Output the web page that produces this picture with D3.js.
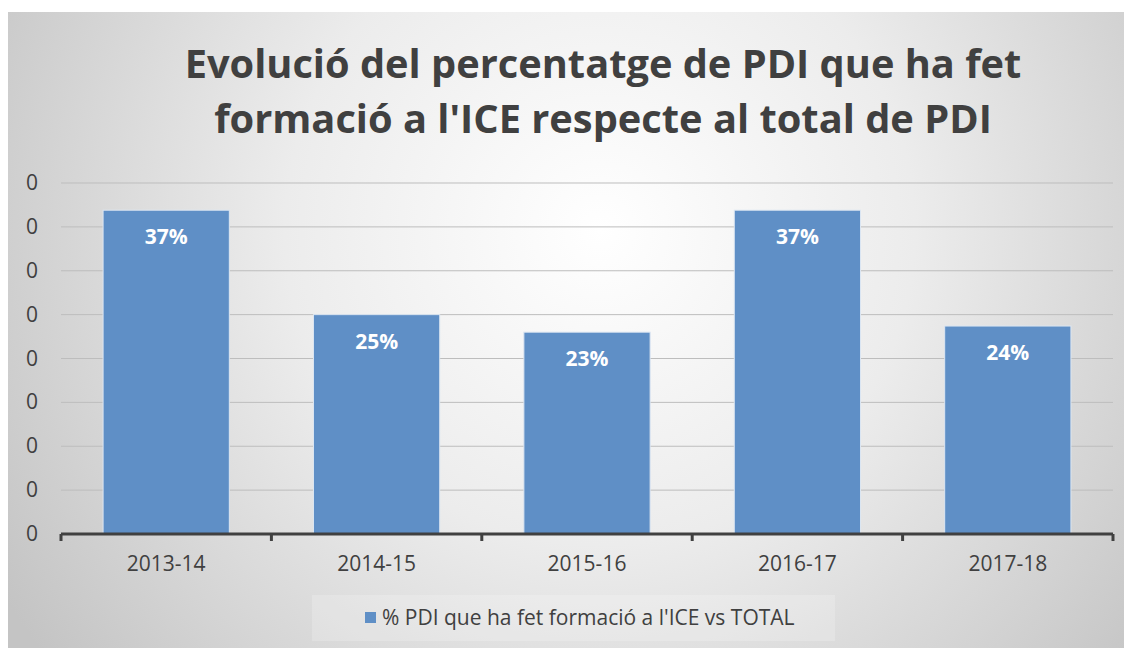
<!DOCTYPE html>
<html>
<head>
<meta charset="utf-8">
<script src="https://cdnjs.cloudflare.com/ajax/libs/d3/7.8.5/d3.min.js"></script>
<style>
  body { margin: 0; background: #fff; }
  svg { display: block; }
</style>
</head>
<body>
<div id="chart"></div>
<script>
// data
const cursos = ['2013-14', '2014-15', '2015-16', '2016-17', '2017-18'];
const valors = [0.369, 0.25, 0.23, 0.369, 0.237];
const etiquetes = ['37%', '25%', '23%', '37%', '24%'];
const titol = ["Evolució del percentatge de PDI que ha fet", "formació a l'ICE respecte al total de PDI"];
const serie = "% PDI que ha fet formació a l'ICE vs TOTAL";
const yTicks = [0, 0.05, 0.1, 0.15, 0.2, 0.25, 0.3, 0.35, 0.4];

const W = 1132, H = 648;
const margins = { top: 183, right: 19, bottom: 114, left: 61 };
const font = '"Open Sans", Lato, sans-serif';

const svg = d3.select('#chart').append('svg')
  .attr('width', W)
  .attr('height', H);

// background gradient
const defs = svg.append('defs');
const grad = defs.append('radialGradient')
  .attr('id', 'bg')
  .attr('gradientUnits', 'userSpaceOnUse')
  .attr('cx', 600).attr('cy', 230).attr('r', 700);
grad.append('stop').attr('offset', '0%').attr('stop-color', '#ffffff');
grad.append('stop').attr('offset', '45%').attr('stop-color', '#ececec');
grad.append('stop').attr('offset', '100%').attr('stop-color', '#c4c4c4');

svg.append('rect')
  .attr('x', 8).attr('y', 12)
  .attr('width', W - 16).attr('height', H - 12)
  .attr('fill', 'url(#bg)');

// legend first, to measure text size used everywhere
svg.append('rect')
  .attr('x', 312).attr('y', 595)
  .attr('width', 523).attr('height', 46)
  .attr('fill', '#ffffff').attr('opacity', 0.2);
svg.append('rect')
  .attr('x', 365).attr('y', 612)
  .attr('width', 11).attr('height', 11)
  .attr('fill', '#5f8fc6');
const legText = svg.append('text')
  .attr('x', 382).attr('y', 625)
  .style('font-family', font)
  .style('font-size', '18px')
  .style('fill', '#404040')
  .text(serie);
const fs = Math.min(21, 18 * 413 / legText.node().getComputedTextLength());
legText.style('font-size', fs + 'px');

const innerW = W - margins.left - margins.right;
const innerH = H - margins.top - margins.bottom;

const x = d3.scaleBand().domain(cursos).range([0, innerW]).paddingInner(0.4).paddingOuter(0.2);
const y = d3.scaleLinear().domain([0, 0.4]).range([innerH, 0]);

const g = svg.append('g').attr('transform', `translate(${margins.left},${margins.top})`);

// gridlines
g.selectAll('.grid')
  .data(yTicks.slice(1))
  .enter().append('line')
  .attr('x1', 0).attr('x2', innerW)
  .attr('y1', d => y(d)).attr('y2', d => y(d))
  .attr('stroke', '#bdbdbd')
  .attr('stroke-width', 1);

// y labels (format with no decimals, as in the original)
g.selectAll('.ylab')
  .data(yTicks)
  .enter().append('text')
  .attr('x', -29)
  .attr('y', d => y(d) + 7)
  .attr('text-anchor', 'middle')
  .style('font-family', font)
  .style('font-size', fs + 'px')
  .style('fill', '#404040')
  .text(d => d3.format('.0f')(d));

// bars
g.selectAll('.bar')
  .data(valors)
  .enter().append('rect')
  .attr('x', (d, i) => x(cursos[i]))
  .attr('y', d => y(d))
  .attr('width', x.bandwidth())
  .attr('height', d => innerH - y(d))
  .attr('fill', '#5f8fc6')
  .attr('stroke', '#dce6f2')
  .attr('stroke-width', 1);

// data labels
g.selectAll('.dlab')
  .data(valors)
  .enter().append('text')
  .attr('x', (d, i) => x(cursos[i]) + x.bandwidth() / 2)
  .attr('y', d => y(d) + 34)
  .attr('text-anchor', 'middle')
  .style('font-family', font)
  .style('font-weight', 'bold')
  .style('font-size', fs + 'px')
  .style('fill', '#ffffff')
  .text((d, i) => etiquetes[i]);

// x axis
const step = innerW / cursos.length;
g.append('line')
  .attr('x1', 0).attr('x2', innerW)
  .attr('y1', innerH).attr('y2', innerH)
  .attr('stroke', '#404040')
  .attr('stroke-width', 3);
g.selectAll('.tick')
  .data(d3.range(cursos.length + 1))
  .enter().append('line')
  .attr('x1', d => d * step).attr('x2', d => d * step)
  .attr('y1', innerH).attr('y2', innerH + 7)
  .attr('stroke', '#404040')
  .attr('stroke-width', 3);

g.selectAll('.xlab')
  .data(cursos)
  .enter().append('text')
  .attr('x', d => x(d) + x.bandwidth() / 2)
  .attr('y', innerH + 37)
  .attr('text-anchor', 'middle')
  .style('font-family', font)
  .style('font-size', fs + 'px')
  .style('fill', '#404040')
  .text(d => d);

// title
const titleTargets = [837, 778];
titol.forEach((t, i) => {
  const el = svg.append('text')
    .attr('x', 603)
    .attr('y', 78 + i * 55)
    .attr('text-anchor', 'middle')
    .style('font-family', font)
    .style('font-weight', 'bold')
    .style('font-size', '40px')
    .style('fill', '#404040')
    .text(t);
  const w = el.node().getComputedTextLength();
  el.style('font-size', (40 * titleTargets[i] / w) + 'px');
});
</script>
</body>
</html>
